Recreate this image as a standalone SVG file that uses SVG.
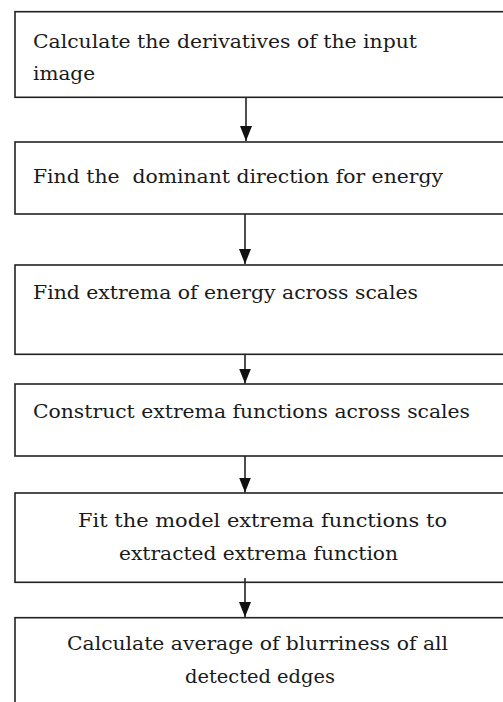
<svg xmlns="http://www.w3.org/2000/svg" width="503" height="702" viewBox="0 0 503 702">
<defs>
<style>
.box{fill:#fff;stroke:#222;stroke-width:1.6}
.lbl{font-family:"DejaVu Serif","Liberation Serif",serif;font-size:18px;fill:#1a1a1a}
.conn{stroke:#222;stroke-width:1.6;fill:none}
</style>
<marker id="ah" viewBox="0 0 15 12" refX="15" refY="6" markerWidth="15" markerHeight="12" markerUnits="userSpaceOnUse" orient="auto">
<path d="M0,0 L15,6 L0,12 z" fill="#111"/>
</marker>
</defs>
<rect width="503" height="702" fill="#fff"/>
<g id="n1">
<rect class="box" x="15" y="11.7" width="520" height="85.6"/>
<text class="lbl" x="33" y="48" textLength="384" lengthAdjust="spacingAndGlyphs">Calculate the derivatives of the input</text>
<text class="lbl" x="33" y="80" textLength="62" lengthAdjust="spacingAndGlyphs">image</text>
</g>
<g id="n2">
<rect class="box" x="15" y="142" width="520" height="72"/>
<text class="lbl" x="33" y="183" textLength="410" lengthAdjust="spacingAndGlyphs" xml:space="preserve">Find the  dominant direction for energy</text>
</g>
<g id="n3">
<rect class="box" x="15" y="265" width="520" height="89.3"/>
<text class="lbl" x="33" y="299" textLength="385" lengthAdjust="spacingAndGlyphs">Find extrema of energy across scales</text>
</g>
<g id="n4">
<rect class="box" x="15" y="384" width="520" height="72"/>
<text class="lbl" x="33" y="418" textLength="437" lengthAdjust="spacingAndGlyphs">Construct extrema functions across scales</text>
</g>
<g id="n5">
<rect class="box" x="15" y="493" width="520" height="89.3"/>
<text class="lbl" x="78" y="527" textLength="369" lengthAdjust="spacingAndGlyphs">Fit the model extrema functions to</text>
<text class="lbl" x="119" y="560" textLength="279" lengthAdjust="spacingAndGlyphs">extracted extrema function</text>
</g>
<g id="n6">
<rect class="box" x="15" y="617.7" width="520" height="120"/>
<text class="lbl" x="67" y="650" textLength="381" lengthAdjust="spacingAndGlyphs">Calculate average of blurriness of all</text>
<text class="lbl" x="185" y="683" textLength="150" lengthAdjust="spacingAndGlyphs">detected edges</text>
</g>
<g id="connectors">
<line class="conn" x1="246" y1="97.3" x2="246" y2="141" marker-end="url(#ah)"/>
<line class="conn" x1="245" y1="214" x2="245" y2="264" marker-end="url(#ah)"/>
<line class="conn" x1="245" y1="354.3" x2="245" y2="383.5" marker-end="url(#ah)"/>
<line class="conn" x1="245" y1="456" x2="245" y2="492.5" marker-end="url(#ah)"/>
<line class="conn" x1="245" y1="578" x2="245" y2="617" marker-end="url(#ah)"/>
</g>
</svg>
